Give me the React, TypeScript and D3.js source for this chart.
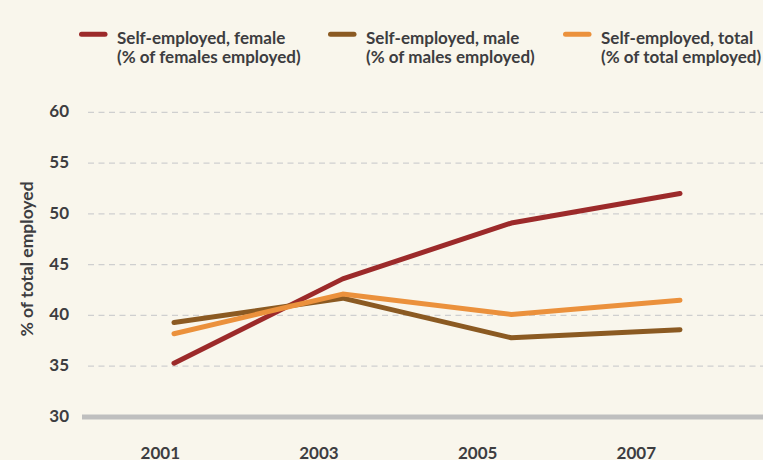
import React from "react";
import * as d3 from "d3";

const years = [2001, 2003, 2005, 2007];
const female = [35.3, 43.6, 49.1, 52.0];
const male = [39.3, 41.7, 37.8, 38.6];
const total = [38.2, 42.1, 40.1, 41.5];
const yTicks = [30, 35, 40, 45, 50, 55, 60];
const xTickLabels = ["2001", "2003", "2005", "2007"];
const seriesNames = [
  ["Self-employed, female", "(% of females employed)"],
  ["Self-employed, male", "(% of males employed)"],
  ["Self-employed, total", "(% of total employed)"],
];
const colors = ["#9c2a2a", "#8b5a22", "#eb913c"];
const yTitle = "% of total employed";

const W = 763;
const H = 460;
const FONT = "Lato, 'Open Sans', sans-serif";
const TEXT = "#3d3d40";

export default function App() {
  const x = d3.scalePoint<number>().domain(years).range([174, 680]);
  const xLab = d3.scalePoint<string>().domain(xTickLabels).range([160.3, 636.3]);
  const y = d3.scaleLinear().domain([30, 60]).range([417, 112.3]);
  const line = d3
    .line<[number, number]>()
    .x((d) => x(d[0]) as number)
    .y((d) => y(d[1]));
  const series = [female, male, total];
  const legendX = [79, 328, 563];

  return (
    <svg
      width={W}
      height={H}
      style={{ position: "absolute", left: 0, top: 0, background: "#f9f6ec" }}
      fontFamily={FONT}
    >
      <rect x={0} y={0} width={W} height={H} fill="#f9f6ec" />
      {seriesNames.map((n, i) => (
        <g key={i}>
          <line
            x1={legendX[i] + 2.5}
            x2={legendX[i] + 26}
            y1={34.3}
            y2={34.3}
            stroke={colors[i]}
            strokeWidth={5}
            strokeLinecap="round"
          />
          <text x={legendX[i] + 38} y={44} fontSize={17} fontWeight={700} fill={TEXT}>
            {n[0]}
          </text>
          <text x={legendX[i] + 38} y={62.5} fontSize={17} fontWeight={700} fill={TEXT}>
            {n[1]}
          </text>
        </g>
      ))}
      {yTicks
        .filter((t) => t !== 30)
        .map((t) => (
          <line
            key={t}
            x1={88}
            x2={W}
            y1={y(t)}
            y2={y(t)}
            stroke="#cfcfcf"
            strokeWidth={1.2}
            strokeDasharray="6 4.5"
          />
        ))}
      <line x1={82} x2={W} y1={y(30)} y2={y(30)} stroke="#bfbfbf" strokeWidth={5} />
      {yTicks.map((t) => (
        <text
          key={t}
          x={69}
          y={y(t) + 5}
          textAnchor="end"
          fontSize={17}
          fontWeight={700}
          fill={TEXT}
        >
          {t}
        </text>
      ))}
      <text
        transform={`translate(33,259) rotate(-90)`}
        textAnchor="middle"
        fontSize={17.5}
        fontWeight={700}
        fill={TEXT}
      >
        {yTitle}
      </text>
      {xTickLabels.map((l) => (
        <text
          key={l}
          x={xLab(l)}
          y={458.5}
          textAnchor="middle"
          fontSize={17}
          fontWeight={700}
          fill={TEXT}
        >
          {l}
        </text>
      ))}
      {series.map((s, i) => (
        <path
          key={i}
          d={line(years.map((yr, j) => [yr, s[j]] as [number, number])) || ""}
          fill="none"
          stroke={colors[i]}
          strokeWidth={5}
          strokeLinecap="round"
          strokeLinejoin="round"
        />
      ))}
    </svg>
  );
}
